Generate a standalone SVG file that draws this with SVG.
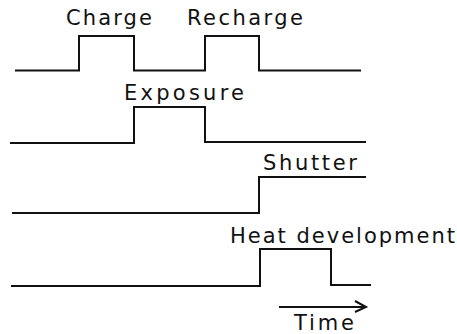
<svg xmlns="http://www.w3.org/2000/svg" width="457" height="334" viewBox="0 0 457 334">
<style>
.w{fill:none;stroke:#111;stroke-width:2;stroke-linejoin:miter}
.t{font-family:"DejaVu Sans","Liberation Sans",sans-serif;font-size:21px;fill:#111}
</style>
<rect width="457" height="334" fill="#fff"/>
<g id="charge">
<path class="w" d="M15,70.5 H79 V36 H134 V70.5 H205 V36 H259 V70.5 H361"/>
<text class="t" x="66" y="25" textLength="86" lengthAdjust="spacing">Charge</text>
<text class="t" x="187" y="25" textLength="116" lengthAdjust="spacing">Recharge</text>
</g>
<g id="exposure">
<path class="w" d="M10,143 H134 V107 H205 V142 H366"/>
<text class="t" x="124" y="100" textLength="120" lengthAdjust="spacing">Exposure</text>
</g>
<g id="shutter">
<path class="w" d="M12,213 H259 V177 H366"/>
<text class="t" x="263" y="170" textLength="94" lengthAdjust="spacing">Shutter</text>
</g>
<g id="heat">
<path class="w" d="M11,286 H260 V249 H331 V285 H371"/>
<text class="t" x="230" y="243" textLength="225" lengthAdjust="spacing">Heat development</text>
</g>
<g id="connectors">
<path class="w" d="M279,307 H365 M355,301 L366,307 L355,312"/>
<text class="t" x="294" y="330" textLength="60" lengthAdjust="spacing">Time</text>
</g>
</svg>
